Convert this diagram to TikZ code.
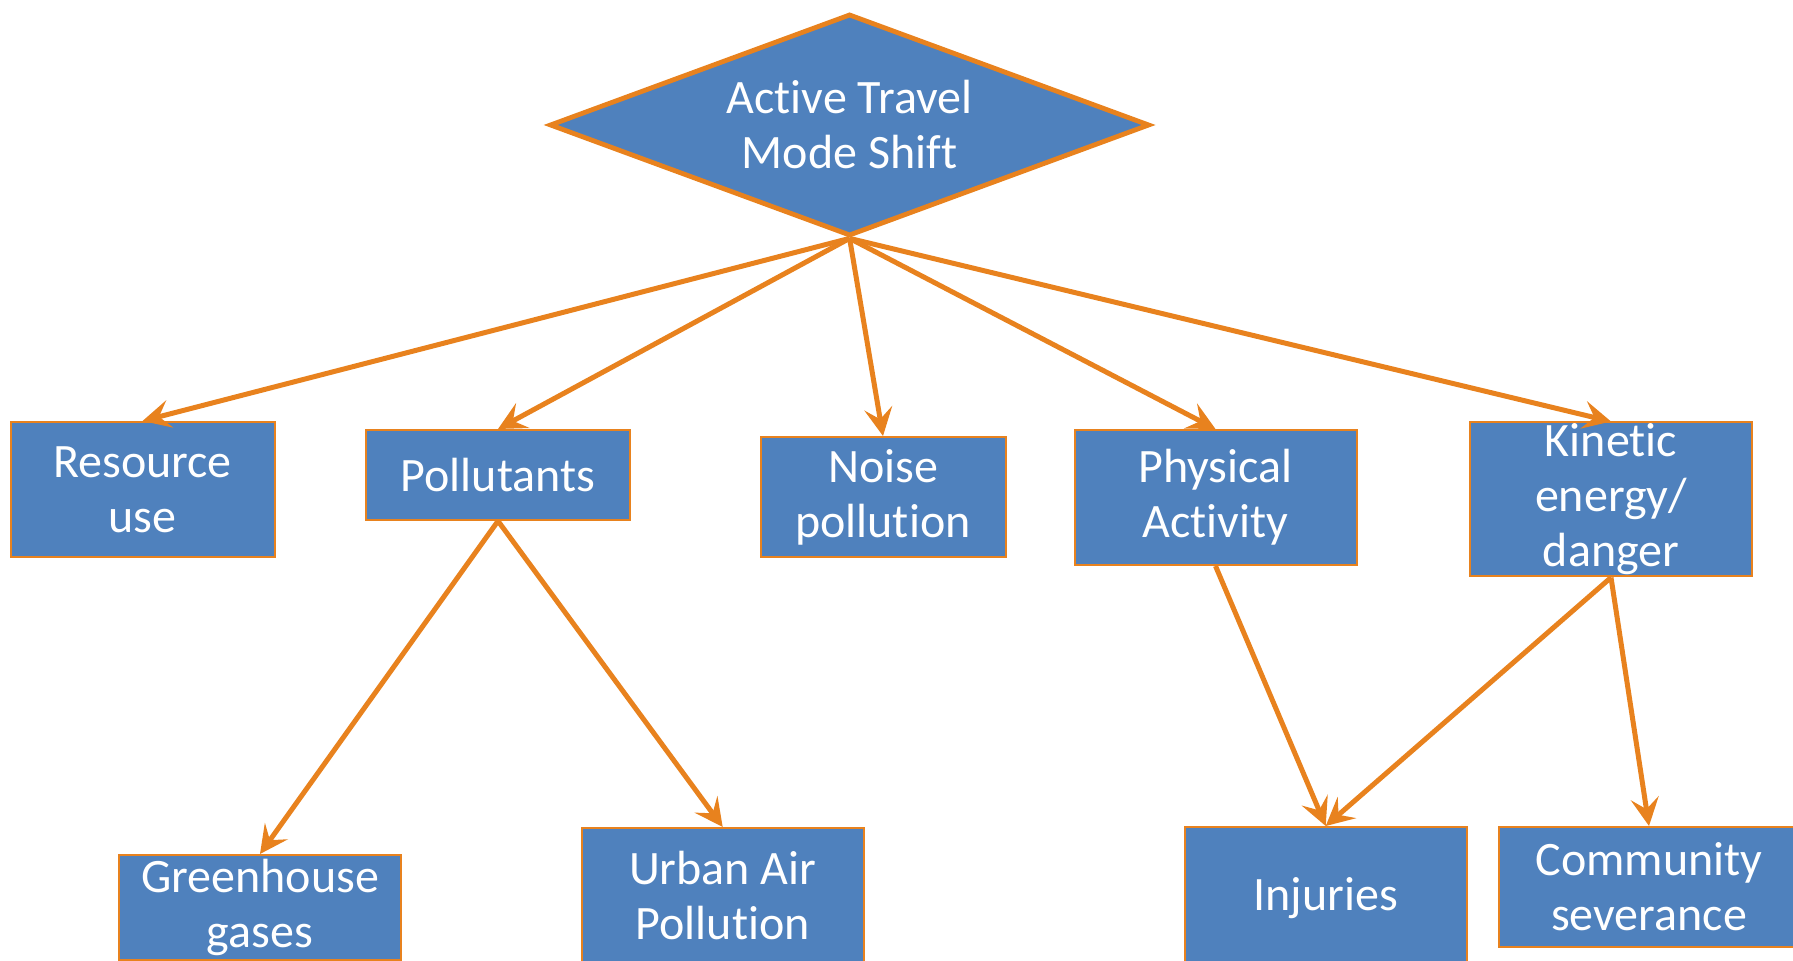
\documentclass[tikz,border=0pt]{standalone}
\usepackage{fontspec}
\setmainfont{Carlito}[Ligatures=NoCommon]
\usetikzlibrary{shapes.geometric,arrows.meta}
\definecolor{boxblue}{HTML}{4F81BD}
\definecolor{linkorange}{HTML}{E8821E}

\begin{document}
\begin{tikzpicture}[
        x=0.5pt, y=-0.5pt,
        font=\fontsize{24pt}{27.5pt}\selectfont,
        effect/.style={rectangle, minimum width=141pt, minimum height=67.5pt, inner sep=0pt, text=white, text centered, draw=linkorange, line width=1pt, fill=boxblue, align=center},
        decision/.style={diamond, aspect=2.7, minimum width=300pt, minimum height=111pt, inner sep=0pt, text=white, text centered, draw=linkorange, line width=2.4pt, fill=boxblue, align=center},
        arrow/.style={line width=2.5pt, -{Stealth[length=14pt, width=14pt, inset=5.5pt]}, color=linkorange}
    ]

        \useasboundingbox (0,0) rectangle (1793,961);
        \clip (0,0) rectangle (1793,961);

        % --- Mode shift ---
        \node (shift) [decision] at (849.6,125) {Active Travel\\Mode Shift};

        % --- First level ---
        \node (resource) [effect, minimum width=132pt] at (142.5,489.5) {Resource\\use};
        \node (pollutants) [effect, minimum width=132pt, minimum height=45pt] at (498,475) {Pollutants};
        \node (noise) [effect, minimum width=122.5pt, minimum height=60pt] at (883,497) {Noise\\pollution};
        \node (activity) [effect] at (1215.5,497.5) {Physical\\Activity};
        \node (kinetic) [effect, minimum height=77pt, inner ysep=-3pt] at (1611,499.5) {Kinetic\\energy/\\danger};

        % --- Second level ---
        \node (ghg) [effect, minimum height=52.5pt, inner ysep=-3pt] at (260,907.5) {Greenhouse\\gases};
        \node (airpoll) [effect, minimum height=68pt] at (722.7,896) {Urban Air\\Pollution};
        \node (injuries) [effect, minimum height=71pt] at (1325.7,898) {Injuries};
        \node (severance) [effect, minimum width=150pt, minimum height=60pt] at (1649,887) {Community\\severance};

        % --- Connections ---
        \draw [arrow] (shift.south) -- (resource.north);
        \draw [arrow] (shift.south) -- (pollutants.north);
        \draw [arrow] (shift.south) -- (noise.north);
        \draw [arrow] (shift.south) -- (activity.north);
        \draw [arrow] (shift.south) -- (kinetic.north);

        \draw [arrow] (pollutants.south) -- (ghg.north);
        \draw [arrow] (pollutants.south) -- (airpoll.north);
        \draw [arrow] (activity.south) -- (injuries.north);
        \draw [arrow] (kinetic.south) -- (injuries.north);
        \draw [arrow] (kinetic.south) -- (severance.north);

    \end{tikzpicture}
\end{document}
